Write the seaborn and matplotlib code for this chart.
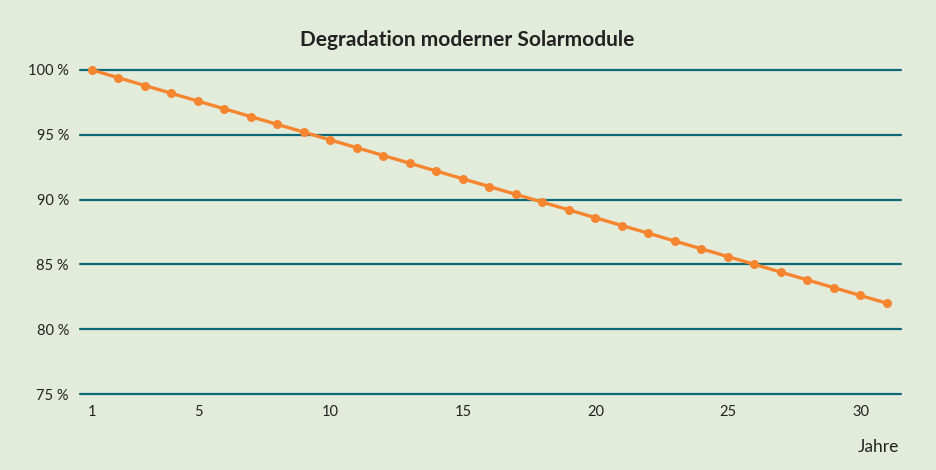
import matplotlib
matplotlib.use("Agg")
import matplotlib.pyplot as plt
import seaborn as sns
import pandas as pd

# --- data ---
jahre = list(range(1, 32))
leistung = [100.0, 99.4, 98.8, 98.2, 97.6, 97.0, 96.4, 95.8, 95.2, 94.6,
            94.0, 93.4, 92.8, 92.2, 91.6, 91.0, 90.4, 89.8, 89.2, 88.6,
            88.0, 87.4, 86.8, 86.2, 85.6, 85.0, 84.4, 83.8, 83.2, 82.6, 82.0]
x_ticks = [1, 5, 10, 15, 20, 25, 30]
y_ticks = [75, 80, 85, 90, 95, 100]
y_labels = [f"{v} %" for v in y_ticks]

BG = "#E3ECDA"
GRID = "#0E6878"
ORANGE = "#F5852F"
TXT = "#222222"

sns.set_theme(style="white")
plt.rcParams["font.family"] = ["Lato", "DejaVu Sans"]

df = pd.DataFrame({"Jahr": jahre, "Leistung": leistung})

fig = plt.figure(figsize=(9.36, 4.70), dpi=100, facecolor=BG)
ax = fig.add_axes([0.0855, 0.1617, 0.8771, 0.6894])
ax.set_facecolor(BG)

# horizontal grid lines (drawn unclipped so the top/bottom lines keep full width)
for y in y_ticks:
    ax.axhline(y, color=GRID, lw=1.6, zorder=1, clip_on=False)

sns.lineplot(data=df, x="Jahr", y="Leistung", ax=ax, color=ORANGE,
             lw=2.4, marker="o", markersize=6.5, markeredgewidth=0,
             zorder=3, clip_on=False)

ax.set_xlim(0.55, 31.53)
ax.set_ylim(75, 100)
ax.set_xticks(x_ticks)
ax.set_yticks(y_ticks)
ax.set_yticklabels(y_labels)
ax.tick_params(axis="both", length=0, labelsize=10.5, colors=TXT)
ax.tick_params(axis="x", pad=8)
ax.tick_params(axis="y", pad=8)
for s in ax.spines.values():
    s.set_visible(False)
ax.set_xlabel("")
ax.set_ylabel("")

fig.text(0.939, 0.049, "Jahre", ha="center", va="center", fontsize=12.5, color=TXT)
fig.text(0.499, 0.915, "Degradation moderner Solarmodule", ha="center", va="center",
         fontsize=15, fontweight="bold", color=TXT)

fig.savefig("out.png", dpi=100, facecolor=BG)
